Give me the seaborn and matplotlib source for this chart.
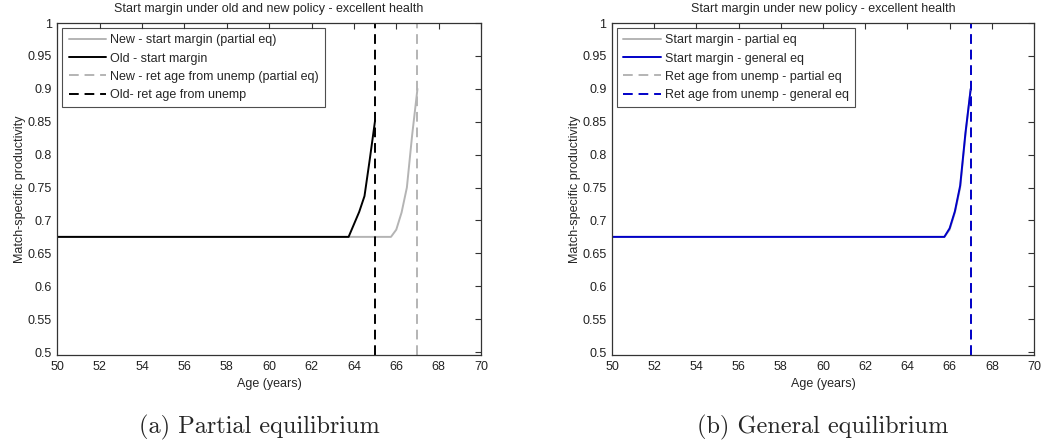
import numpy as np
import pandas as pd
import seaborn as sns
import matplotlib.pyplot as plt
from matplotlib.ticker import FormatStrFormatter, MultipleLocator

# datos
ages_old = [50, 63.75, 64.0, 64.25, 64.5, 64.75, 65.0]
margin_old = [0.675, 0.675, 0.694, 0.713, 0.737, 0.793, 0.852]

ages_new = [50, 65.75, 66.0, 66.25, 66.5, 66.75, 67.0]
margin_new_pe = [0.675, 0.675, 0.686, 0.712, 0.750, 0.830, 0.900]
margin_new_ge = [0.675, 0.675, 0.688, 0.714, 0.753, 0.833, 0.900]

ret_old = 65
ret_new_pe = 67
ret_new_ge = 67

GRAY = "#b4b4b4"
BLUE = "#0000c8"

sns.set_style("white")
plt.rcParams["font.family"] = ["Liberation Sans", "DejaVu Sans"]
plt.rcParams["font.size"] = 9

fig = plt.figure(figsize=(10.43, 4.48), dpi=100)
ax1 = fig.add_axes([0.0549, 0.2076, 0.4063, 0.741])
ax2 = fig.add_axes([0.5868, 0.2076, 0.4046, 0.741])

df_old = pd.DataFrame({"age": ages_old, "m": margin_old})
df_new = pd.DataFrame({"age": ages_new, "pe": margin_new_pe, "ge": margin_new_ge})

dash = (5, 3)

# ------------------------------------
# (a) equilibrio parcial
# ------------------------------------
sns.lineplot(data=df_new, x="age", y="pe", ax=ax1, color=GRAY, lw=1.4,
             estimator=None, label="New - start margin (partial eq)")
sns.lineplot(data=df_old, x="age", y="m", ax=ax1, color="black", lw=1.4,
             estimator=None, label="Old - start margin")
ax1.axvline(ret_new_pe, color=GRAY, lw=1.4, dashes=dash,
            label="New - ret age from unemp (partial eq)")
ax1.axvline(ret_old, color="black", lw=1.4, dashes=dash,
            label="Old- ret age from unemp")
ax1.set_title("Start margin under old and new policy - excellent health",
              fontsize=9, pad=8)

# ------------------------------------
# (b) equilibrio general
# ------------------------------------
sns.lineplot(data=df_new, x="age", y="pe", ax=ax2, color=GRAY, lw=1.4,
             estimator=None, label="Start margin - partial eq")
sns.lineplot(data=df_new, x="age", y="ge", ax=ax2, color=BLUE, lw=1.4,
             estimator=None, label="Start margin - general eq")
ax2.axvline(ret_new_pe, color=GRAY, lw=1.4, dashes=dash,
            label="Ret age from unemp - partial eq")
ax2.axvline(ret_new_ge, color=BLUE, lw=1.4, dashes=dash,
            label="Ret age from unemp - general eq")
ax2.set_title("Start margin under new policy - excellent health",
              fontsize=9, pad=8)

for ax in (ax1, ax2):
    ax.set_xlim(50, 70)
    ax.set_ylim(0.4955, 1)
    ax.xaxis.set_major_locator(MultipleLocator(2))
    ax.yaxis.set_major_locator(MultipleLocator(0.05))
    ax.yaxis.set_major_formatter(FormatStrFormatter("%g"))
    ax.tick_params(direction="in", length=4, width=0.8, top=True, right=True,
                   labelsize=9, colors="#333333", pad=4)
    ax.tick_params(labelcolor="#222222")
    for s in ax.spines.values():
        s.set_color("#333333")
        s.set_linewidth(0.9)
    ax.set_xlabel("Age (years)", fontsize=9, labelpad=4)
    ax.set_ylabel("Match-specific productivity", fontsize=9, labelpad=1)
    leg = ax.legend(loc="upper left", fontsize=9, frameon=True, fancybox=False,
                    handlelength=3.0, handletextpad=0.3, borderpad=0.5,
                    labelspacing=0.5, borderaxespad=0.4)
    leg.get_frame().set_edgecolor("#222222")
    leg.get_frame().set_linewidth(0.8)

fig.text(0.2485, 0.045, "(a) Partial equilibrium", ha="center", va="center",
         fontsize=17.5, family="cmr10")
fig.text(0.789, 0.045, "(b) General equilibrium", ha="center", va="center",
         fontsize=17.5, family="cmr10")

plt.savefig("out.png", dpi=100)
